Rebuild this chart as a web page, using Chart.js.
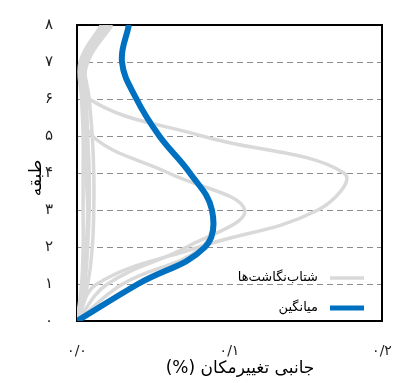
<!DOCTYPE html>
<html lang="fa">
<head>
<meta charset="utf-8">
<script src="https://cdn.jsdelivr.net/npm/chart.js@4.4.1/dist/chart.umd.min.js"></script>
<style>
  html, body { margin: 0; padding: 0; background: #fff; }
  canvas { display: block; }
</style>
</head>
<body>
<canvas id="driftChart" width="393" height="383"></canvas>
<script>
// floors (y) and lateral drift (x, %)
const floors = [0, 1, 2, 3, 4, 5, 6, 7, 8];
const floorLabels = ['۰', '۱', '۲', '۳', '۴', '۵', '۶', '۷', '۸'];
const driftTicks = [0, 0.1, 0.2];
const driftTickLabels = ['۰/۰', '۰/۱', '۰/۲'];

// individual records (grey)
const record1 = [0, 0.003, 0.004, 0.004, 0.004, 0.004, 0.003, 0.002, 0.016];
const record2 = [0, 0.005, 0.007, 0.008, 0.008, 0.007, 0.006, 0.004, 0.019];
const record3 = [0, 0.007, 0.010, 0.011, 0.011, 0.010, 0.008, 0.006, 0.021];
const record4 = [0, 0.004, 0.006, 0.007, 0.006, 0.006, 0.005, 0.007, 0.023];
const record5 = [0, 0.013, 0.080, 0.158, 0.175, 0.082, 0.008, 0.005, 0.018];
const record6 = [0, 0.020, 0.072, 0.110, 0.060, 0.010, 0.005, 0.004, 0.020];
const record7 = [0, 0.030, 0.082, 0.088, 0.074, 0.054, 0.039, 0.029, 0.034];
const records = [record1, record2, record3, record4, record5, record6, record7];

// mean (blue)
const meanDrift = [0, 0.040, 0.084, 0.0885, 0.074, 0.054, 0.039, 0.0295, 0.034];

const legendLabels = ['شتاب\u200cنگاشت\u200cها', 'میانگین'];
const xTitle = '(%) جانبی تغییرمکان';
const yTitle = 'طبقه';

const colors = {
  record: '#d9d9d9',
  mean: '#0070c0',
  grid: '#8c8c8c',
  text: '#222'
};
const faFont = '"DejaVu Sans", sans-serif';

function toPoints(values) {
  return floors.map((f, i) => ({ x: values[i], y: f }));
}

const datasets = records.map((r) => ({
  data: toPoints(r),
  borderColor: colors.record,
  borderWidth: 3.5,
  pointRadius: 0,
  tension: 0.4,
  clip: 0,
  order: 1
}));
datasets.push({
  data: toPoints(meanDrift),
  borderColor: colors.mean,
  borderWidth: 6,
  pointRadius: 0,
  tension: 0.4,
  clip: 0,
  order: 0
});

// black box round the plot area
const framePlugin = {
  id: 'frame',
  beforeDatasetsDraw(chart) {
    const { ctx, chartArea: a } = chart;
    ctx.save();
    ctx.strokeStyle = '#000';
    ctx.lineWidth = 2;
    ctx.strokeRect(a.left, a.top, a.right - a.left, a.bottom - a.top);
    ctx.restore();
  }
};

// axis titles + legend inside the plot
const labelsPlugin = {
  id: 'faLabels',
  afterDraw(chart) {
    const { ctx } = chart;
    ctx.save();
    ctx.fillStyle = '#000';
    ctx.direction = 'ltr';

    // x title
    ctx.font = '17px ' + faFont;
    ctx.textAlign = 'center';
    ctx.textBaseline = 'middle';
    ctx.fillText(xTitle, 240, 369);

    // y title
    ctx.save();
    ctx.translate(37, 178);
    ctx.rotate(-Math.PI / 2);
    ctx.fillText(yTitle, 0, 0);
    ctx.restore();

    // legend
    const items = [
      { text: legendLabels[0], color: colors.record, width: 3.5, y: 278 },
      { text: legendLabels[1], color: colors.mean, width: 5, y: 308 }
    ];
    ctx.font = '13px ' + faFont;
    ctx.textAlign = 'right';
    items.forEach((it) => {
      ctx.strokeStyle = it.color;
      ctx.lineWidth = it.width;
      ctx.beginPath();
      ctx.moveTo(330, it.y);
      ctx.lineTo(364, it.y);
      ctx.stroke();
      ctx.fillStyle = '#000';
      ctx.fillText(it.text, 318, it.y);
    });
    ctx.restore();
  }
};

new Chart(document.getElementById('driftChart').getContext('2d'), {
  type: 'line',
  data: { datasets },
  options: {
    responsive: false,
    animation: false,
    devicePixelRatio: 1,
    layout: { padding: { top: 25, right: 11, left: 0, bottom: 0 } },
    plugins: {
      legend: { display: false },
      tooltip: { enabled: false }
    },
    scales: {
      x: {
        type: 'linear',
        min: 0,
        max: 0.2,
        afterBuildTicks: (scale) => {
          scale.ticks = driftTicks.map((v) => ({ value: v }));
        },
        afterFit: (scale) => {
          scale.height = 62;
          scale.paddingLeft = 0;
          scale.paddingRight = 0;
        },
        ticks: {
          padding: 22,
          color: colors.text,
          font: { family: faFont, size: 14 },
          callback: (value) => driftTickLabels[driftTicks.indexOf(value)]
        },
        grid: { display: false, drawTicks: false },
        border: { display: false }
      },
      y: {
        type: 'linear',
        min: 0,
        max: 8,
        afterFit: (scale) => {
          scale.width = 77;
          scale.paddingTop = 0;
          scale.paddingBottom = 0;
        },
        ticks: {
          stepSize: 1,
          padding: 24,
          color: colors.text,
          font: { family: faFont, size: 15 },
          callback: (value) => floorLabels[value]
        },
        grid: {
          drawTicks: false,
          lineWidth: 1,
          color: (c) => (c.tick && c.tick.value > 0 && c.tick.value < 8 ? colors.grid : 'rgba(0,0,0,0)')
        },
        border: { display: false, dash: [6, 4] }
      }
    }
  },
  plugins: [framePlugin, labelsPlugin]
});
</script>
</body>
</html>
